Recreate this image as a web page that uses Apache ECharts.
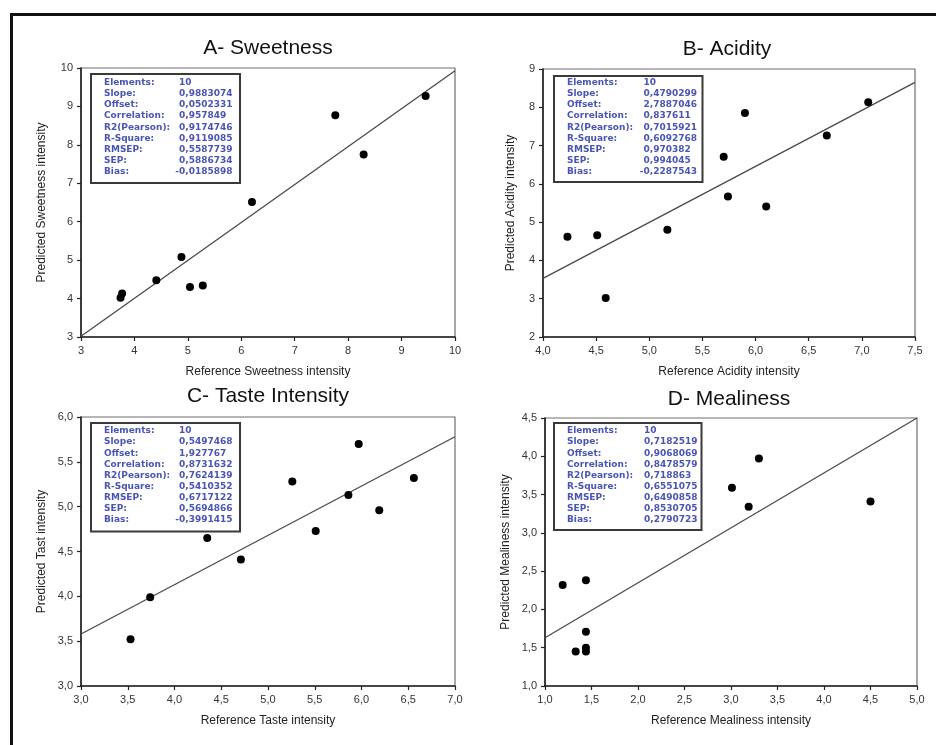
<!DOCTYPE html>
<html><head><meta charset="utf-8">
<script src="https://cdn.jsdelivr.net/npm/echarts@6/dist/echarts.min.js"></script>
<style>html,body{margin:0;padding:0;background:#fff}#c{width:936px;height:745px}</style>
</head><body><div id="c"></div>
<script>
// ---------- data ----------
const titles = ['A- Sweetness', 'B- Acidity', 'C- Taste Intensity', 'D- Mealiness'];
const xNames = ['Reference Sweetness intensity', 'Reference Acidity intensity', 'Reference Taste intensity', 'Reference Mealiness intensity'];
const yNames = ['Predicted Sweetness intensity', 'Predicted Acidity intensity', 'Predicted Tast intensity', 'Predicted Mealiness intensity'];

const sweetRef  = [3.74, 3.77, 4.41, 4.88, 5.04, 5.28, 6.20, 7.76, 8.29, 9.45];
const sweetPred = [4.02, 4.13, 4.48, 5.08, 4.30, 4.34, 6.51, 8.77, 7.75, 9.27];
const sweetFit  = [[3, 3.02], [10, 9.93]];

const acidRef  = [4.23, 4.51, 4.59, 5.17, 5.70, 5.74, 5.90, 6.10, 6.67, 7.06];
const acidPred = [4.62, 4.66, 3.02, 4.80, 6.71, 5.67, 7.85, 5.41, 7.26, 8.13];
const acidFit  = [[4.0, 3.53], [7.5, 8.65]];

const tasteRef  = [3.53, 3.74, 4.35, 4.71, 5.26, 5.51, 5.86, 5.97, 6.19, 6.56];
const tastePred = [3.52, 3.99, 4.65, 4.41, 5.28, 4.73, 5.13, 5.70, 4.96, 5.32];
const tasteFit  = [[3.0, 3.58], [7.0, 5.78]];

const mealRef  = [1.19, 1.33, 1.44, 1.44, 1.44, 1.44, 3.01, 3.19, 3.30, 4.50];
const mealPred = [2.32, 1.45, 2.38, 1.71, 1.50, 1.45, 3.59, 3.34, 3.97, 3.41];
const mealFit  = [[1.0, 1.63], [5.0, 4.50]];

const statLabels = ['Elements:', 'Slope:', 'Offset:', 'Correlation:', 'R2(Pearson):', 'R-Square:', 'RMSEP:', 'SEP:', 'Bias:'];
const statsA = ['10', '0,9883074', '0,0502331', '0,957849', '0,9174746', '0,9119085', '0,5587739', '0,5886734', '-0,0185898'];
const statsB = ['10', '0,4790299', '2,7887046', '0,837611', '0,7015921', '0,6092768', '0,970382', '0,994045', '-0,2287543'];
const statsC = ['10', '0,5497468', '1,927767', '0,8731632', '0,7624139', '0,5410352', '0,6717122', '0,5694866', '-0,3991415'];
const statsD = ['10', '0,7182519', '0,9068069', '0,8478579', '0,718863', '0,6551075', '0,6490858', '0,8530705', '0,2790723'];

// axis ranges: [min, max, interval, decimals]
const xAxes = [[3, 10, 1, 0], [4, 7.5, 0.5, 1], [3, 7, 0.5, 1], [1, 5, 0.5, 1]];
const yAxes = [[3, 10, 1, 0], [2, 9, 1, 0], [3, 6, 0.5, 1], [1, 4.5, 0.5, 1]];

// ---------- layout ----------
const panels = [
  {grid: {left: 81, top: 68, width: 374, height: 269}, yGap: 33, title: [268, 48],
   box: {x: 91, y: 74, w: 149, h: 109, lx: 104, vx: 179, ry: 82.7}},
  {grid: {left: 543, top: 69, width: 372, height: 268}, yGap: 26, title: [727, 49],
   box: {x: 554, y: 76, w: 148.5, h: 106, lx: 567, vx: 643.5, ry: 82.7}},
  {grid: {left: 81, top: 417, width: 374, height: 269}, yGap: 33, title: [268, 396],
   box: {x: 91, y: 423, w: 149, h: 108.5, lx: 104, vx: 179, ry: 431}},
  {grid: {left: 545, top: 418, width: 372, height: 268}, yGap: 33, title: [729, 399],
   box: {x: 554, y: 423, w: 147.5, h: 107, lx: 567, vx: 644, ry: 431}}
];
const refs = [sweetRef, acidRef, tasteRef, mealRef];
const preds = [sweetPred, acidPred, tastePred, mealPred];
const fits = [sweetFit, acidFit, tasteFit, mealFit];
const stats = [statsA, statsB, statsC, statsD];

const fmt = d => v => d ? v.toFixed(d).replace('.', ',') : String(v);

const grids = [], xa = [], ya = [], series = [], graphic = [];
panels.forEach((p, i) => {
  grids.push(Object.assign({show: true, borderColor: '#6e6e6e', borderWidth: 1.2, backgroundColor: 'transparent'}, p.grid));
  const common = {
    gridIndex: i, type: 'value',
    splitLine: {show: false},
    axisLine: {show: true, onZero: false, lineStyle: {color: '#222', width: 1.6}},
    axisTick: {show: true, inside: false, length: 4, lineStyle: {color: '#222', width: 1.2}},
    nameLocation: 'middle',
    nameTextStyle: {fontFamily: 'Liberation Sans', fontSize: 12, color: '#222'}
  };
  const X = xAxes[i], Y = yAxes[i];
  xa.push(Object.assign({}, common, {
    min: X[0], max: X[1], interval: X[2], name: xNames[i], nameGap: 29,
    axisLabel: {margin: 8, fontFamily: 'Liberation Sans', fontSize: 11, color: '#333', formatter: fmt(X[3])}
  }));
  ya.push(Object.assign({}, common, {
    min: Y[0], max: Y[1], interval: Y[2], name: yNames[i], nameGap: p.yGap,
    axisLabel: {margin: 8, fontFamily: 'Liberation Sans', fontSize: 11, color: '#333', formatter: fmt(Y[3])}
  }));
  series.push({
    type: 'line', xAxisIndex: i, yAxisIndex: i, data: fits[i], showSymbol: false, silent: true,
    lineStyle: {color: '#4a4a4a', width: 1.3}, z: 2
  });
  series.push({
    type: 'scatter', xAxisIndex: i, yAxisIndex: i,
    data: refs[i].map((v, k) => [v, preds[i][k]]),
    symbol: 'circle', symbolSize: 8, itemStyle: {color: '#000', opacity: 1}, z: 3
  });
  // title
  graphic.push({type: 'text', x: p.title[0], y: p.title[1],
    style: {text: titles[i], font: '21px "Liberation Sans"', fill: '#111', align: 'center', verticalAlign: 'middle'}});
  // stats box
  const b = p.box;
  graphic.push({type: 'rect', shape: {x: b.x, y: b.y, width: b.w, height: b.h},
    style: {fill: '#fff', stroke: '#3a3a3a', lineWidth: 2}, z: 10});
  statLabels.forEach((lab, r) => {
    const yy = b.ry + r * 11.13;
    const font = 'bold 9px "DejaVu Sans"';
    graphic.push({type: 'text', x: b.lx, y: yy, z: 11,
      style: {text: lab, font: font, fill: '#4a55b3', align: 'left', verticalAlign: 'middle'}});
    let v = stats[i][r];
    if (v[0] === '-') {
      graphic.push({type: 'text', x: b.vx, y: yy, z: 11,
        style: {text: '-', font: font, fill: '#4a55b3', align: 'right', verticalAlign: 'middle'}});
      v = v.slice(1);
    }
    graphic.push({type: 'text', x: b.vx, y: yy, z: 11,
      style: {text: v, font: font, fill: '#4a55b3', align: 'left', verticalAlign: 'middle'}});
  });
});
// outer frame
graphic.push({type: 'rect', shape: {x: 11.5, y: 14.5, width: 1000, height: 1000},
  style: {fill: 'none', stroke: '#111', lineWidth: 3}, z: 20});

const chart = echarts.init(document.getElementById('c'), null, {renderer: 'canvas'});
chart.setOption({
  animation: false,
  backgroundColor: '#fff',
  grid: grids, xAxis: xa, yAxis: ya, series: series, graphic: graphic
});
</script>
</body></html>
